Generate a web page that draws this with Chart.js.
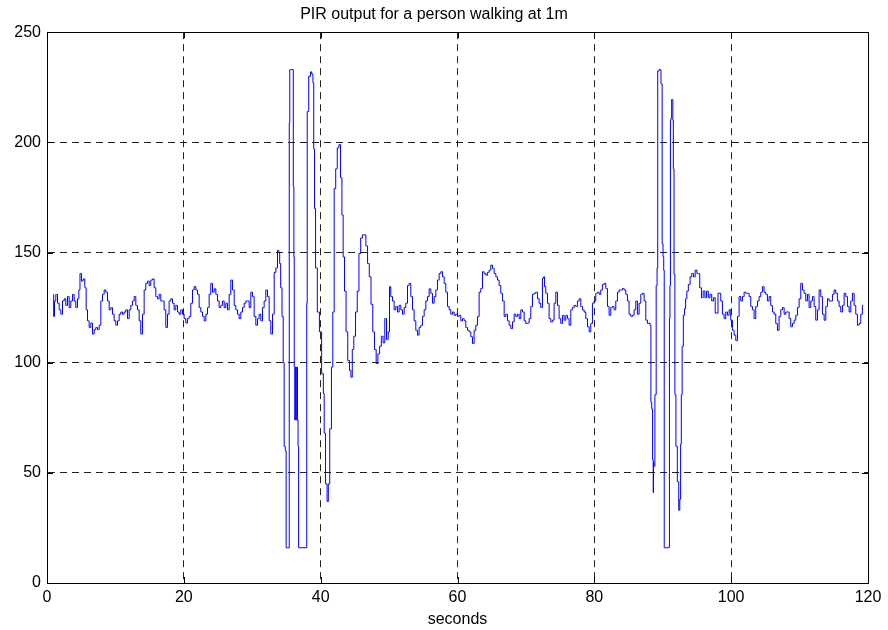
<!DOCTYPE html>
<html>
<head>
<meta charset="utf-8">
<title>PIR output for a person walking at 1m</title>
<script src="https://cdn.jsdelivr.net/npm/chart.js@4.4.1/dist/chart.umd.min.js"></script>
<style>
  html, body { margin: 0; padding: 0; background: #fff; }
  #wrap { width: 888px; height: 630px; position: relative; }
</style>
</head>
<body>
<div id="wrap"><canvas id="pir-chart"></canvas></div>
<script>
// PIR sensor trace (seconds / raw output)
var chartTitle = 'PIR output for a person walking at 1m';
var xAxisLabel = 'seconds';
var xTicks = [0, 20, 40, 60, 80, 100, 120];
var yTicks = [0, 50, 100, 150, 200, 250];

var times = [
  0.93, 1.02, 1.17, 1.41, 1.66, 1.90, 2.14, 2.39, 2.63, 2.87,
  3.12, 3.36, 3.60, 3.85, 4.09, 4.33, 4.58, 4.72, 4.92, 5.16,
  5.41, 5.65, 5.80, 6.04, 6.28, 6.53, 6.77, 7.02, 7.26, 7.50,
  7.75, 7.99, 8.23, 8.48, 8.72, 8.96, 9.21, 9.45, 9.69, 9.94,
  10.18, 10.42, 10.67, 10.91, 11.15, 11.40, 11.64, 11.89, 12.13, 12.37,
  12.62, 12.86, 13.10, 13.35, 13.59, 13.83, 14.08, 14.32, 14.56, 14.81,
  15.05, 15.29, 15.54, 15.78, 16.03, 16.27, 16.51, 16.76, 17.00, 17.24,
  17.49, 17.73, 17.97, 18.22, 18.46, 18.70, 18.95, 19.19, 19.43, 19.68,
  19.92, 20.16, 20.41, 20.65, 20.90,
  21.14, 21.39, 21.63, 21.88, 22.12, 22.36, 22.61, 22.85, 23.09, 23.34,
  23.58, 23.82, 24.07, 24.31, 24.56, 24.80, 25.04, 25.29, 25.53, 25.77,
  26.02, 26.26, 26.50, 26.75, 26.99, 27.24, 27.48, 27.72, 27.97, 28.21,
  28.45, 28.70, 28.94, 29.18, 29.43, 29.67, 29.91, 30.16, 30.40, 30.65,
  30.89, 31.13, 31.38, 31.62, 31.86, 32.11, 32.35, 32.59, 32.84, 33.08,
  33.33, 33.57, 33.81, 33.96, 34.06, 34.25,
  // first pass
  34.45, 34.60, 34.72, 34.93, 34.98, 35.40, 35.42, 35.55, 35.95, 36.05,
  36.12, 36.16, 36.26, 36.36, 36.46, 36.56, 36.67, 36.72, 36.83, 37.93,
  38.00, 38.07, 38.44, 38.60, 38.80, 38.94, 39.03, 39.18, 39.33, 39.69,
  39.94, 40.34, 40.44, 40.59, 40.84, 41.04, 41.20, 41.45, 41.70, 41.85,
  42.10, 42.30, 42.55, 42.80, 43.00, 43.21, 43.36, 43.61, 43.81, 44.11,
  44.32, 44.52, 44.72, 44.97, 45.22, 45.47, 45.72, 45.98, 46.23, 46.48,
  46.73, 46.98, 47.23, 47.49, 47.74, 47.99, 48.24, 48.49, 48.74, 49.00,
  49.25, 49.50, 49.75, 50.00,
  50.13, 50.37, 50.62, 50.86, 51.11, 51.35, 51.59, 51.84, 52.08, 52.32,
  52.57, 52.81, 53.05, 53.30, 53.54, 53.78, 54.03, 54.27, 54.51, 54.76,
  55.00, 55.25, 55.49, 55.73, 55.98, 56.22, 56.46, 56.71, 56.95, 57.19,
  57.44, 57.68, 57.93, 58.17, 58.41, 58.66, 58.90, 59.14, 59.39, 59.63,
  59.87, 60.12, 60.36, 60.61, 60.85, 61.09, 61.34, 61.58, 61.82, 62.07,
  62.31, 62.55, 62.80, 63.04, 63.28, 63.53, 63.77, 64.01, 64.26, 64.50,
  64.75, 64.99, 65.23, 65.48, 65.72, 65.96, 66.21, 66.45, 66.70, 66.94,
  67.18, 67.43, 67.67, 67.91, 68.16, 68.40, 68.64, 68.89, 69.13, 69.38,
  69.62, 69.86, 70.10, 70.35, 70.59,
  70.83, 71.08, 71.32, 71.56, 71.81, 72.05, 72.29, 72.54, 72.66, 72.78,
  73.03, 73.27, 73.51, 73.76, 74.00, 74.24, 74.49, 74.73, 74.97, 75.22,
  75.46, 75.71, 75.95, 76.19, 76.44, 76.68, 76.92, 77.17, 77.41, 77.65,
  77.90, 78.14, 78.38, 78.63, 78.87, 79.12, 79.36, 79.60, 79.85, 80.09,
  80.33, 80.58, 80.82, 81.06, 81.31, 81.55, 81.79, 82.04, 82.28, 82.53,
  82.77, 83.01, 83.26, 83.50, 83.74, 83.99, 84.23, 84.47, 84.72, 84.96,
  85.20, 85.45, 85.69, 85.94, 86.18, 86.42, 86.67, 86.91, 87.15, 87.40,
  87.64, 87.88,
  // second pass
  88.08, 88.20, 88.33, 88.45, 88.58, 88.63, 88.66, 88.73, 88.98, 89.10,
  89.24, 89.29, 89.64, 89.84, 89.99, 90.09, 90.19, 90.24, 90.95, 91.00,
  91.10, 91.15, 91.25, 91.35, 91.45, 91.50, 91.60, 91.70, 91.85, 92.00,
  92.26, 92.41, 92.56, 92.66, 92.76, 92.91, 93.11, 93.26, 93.43, 93.61,
  93.87, 94.12, 94.37, 94.62, 94.87, 95.12, 95.28, 95.53, 95.78, 96.03,
  96.28, 96.53, 96.78, 97.03, 97.29, 97.54, 97.79,
  98.36, 98.60, 98.85, 99.09, 99.33, 99.58, 99.82, 100.06, 100.31, 100.55,
  100.80, 101.04, 101.28, 101.53, 101.77, 102.01, 102.26, 102.50, 102.74, 102.99,
  103.23, 103.47, 103.72, 103.96, 104.20, 104.45, 104.69, 104.93, 105.18, 105.42,
  105.67, 105.91, 106.15, 106.40, 106.64, 106.88, 107.13, 107.37, 107.62, 107.86,
  108.10, 108.35, 108.59, 108.83, 109.08, 109.32, 109.57, 109.81, 110.05, 110.30,
  110.54, 110.78, 111.03, 111.27, 111.51, 111.76, 112.00, 112.24, 112.49, 112.73,
  112.98, 113.22, 113.46, 113.71, 113.95, 114.19, 114.44, 114.68, 114.92, 115.17,
  115.41, 115.65, 115.90, 116.14, 116.39, 116.63, 116.87, 117.12, 117.36, 117.60,
  117.85, 118.09, 118.33, 118.58, 118.82, 119.06, 119.30
];

var pirOutput = [
  131, 121, 128, 131, 127, 124, 122, 128, 129, 126,
  130, 125, 128, 131, 128, 125, 129, 133, 140.5, 137,
  138, 134, 124, 119, 116, 118, 113, 115, 116, 115,
  117, 128, 131, 133, 132, 128, 124, 125, 122, 119,
  117, 119, 122, 123, 122, 123, 124, 120, 124, 126,
  128, 130, 126, 124, 119, 113, 122, 133, 136, 137,
  135, 137.5, 138, 134, 130, 129, 131, 128, 128, 124,
  116, 122, 128, 129, 127, 124, 126, 123, 122, 124,
  122, 120, 118, 120, 121,
  127, 133, 134.5, 133, 131, 125, 123, 121, 119, 122,
  125, 131, 136, 132, 133.5, 131, 128, 125, 126, 128,
  125, 127, 124, 131, 137.5, 133, 126, 124, 122, 120,
  123, 125, 127, 128, 128, 125, 132, 130, 121, 117,
  120, 122, 119, 125, 128, 133, 130, 119, 113, 122,
  141, 143, 151, 150, 145, 134,
  // first pass
  121, 100, 62, 60, 16, 16, 209, 233, 233, 180,
  148, 98, 74, 98, 74, 98, 74, 62, 16, 16,
  127, 214, 230, 232, 231, 227, 197, 170, 143, 123,
  114, 95, 86, 68, 45, 37, 45, 70, 98, 123,
  179, 188, 197.5, 199, 184, 167, 148, 132.5, 114, 101,
  96.5, 93.4, 106, 112, 123, 132.5, 149.6, 156.6, 158, 158,
  153, 145, 139, 126.5, 114, 106, 99.6, 104, 107.5, 112,
  109, 120, 110.5, 114,
  134.5, 130, 128, 124, 125.5, 123, 126, 124, 122, 125,
  127, 135, 136, 130, 124, 119, 114.7, 112.5, 116, 117,
  121, 124, 128, 130, 133.5, 131.5, 127, 130, 133, 137.5,
  140.5, 141.3, 139, 136, 132, 125.5, 124, 122, 123, 121.5,
  122, 121, 121.5, 119, 120, 119, 116, 114.7, 114, 111.8,
  108.7, 114.7, 117, 121, 132, 133.7, 141.3, 140.5, 139.7, 141,
  142, 144.3, 142.8, 140.5, 139, 137.5, 135, 131.5, 128, 121,
  122, 119, 117, 115.5, 118.5, 122, 121, 122, 120, 124,
  123, 119, 117.8, 118, 120,
  125.5, 131, 131.5, 132, 129, 127, 125, 138.3, 139, 134.5,
  131.5, 127, 120, 118.5, 119.3, 127, 132, 126, 120, 117.8,
  121.5, 119.3, 121.5, 120, 117, 124, 125, 126, 125.5, 128,
  129, 125.5, 124, 123, 120, 116.3, 114, 117.8, 127, 128,
  131.5, 132, 131, 133, 135.4, 136, 133.7, 125.5, 121.5, 125,
  125.5, 124, 128, 132, 133, 133, 133.7, 133, 131, 128,
  122, 121, 121.5, 124, 128, 122, 127, 131, 131.5, 128,
  119.3, 117.8,
  // second pass
  118, 117, 82, 79, 56, 41, 55, 53, 85.5, 135,
  143, 232.4, 233, 226.5, 154, 148, 142, 16, 16, 120,
  135, 210, 211, 219.5, 219.5, 210, 188, 140, 85.5, 62,
  46, 33, 38, 63, 85.5, 107.5, 121.5, 124.5, 129, 132.5,
  135.5, 139, 140.5, 139, 142, 140.5, 140.5, 134, 129.5, 132.5,
  129.5, 132.5, 129.5, 131, 128, 129.5, 122.5,
  131.5, 128, 122, 120, 123, 121.5, 124, 119.3, 114.7, 112.5,
  110, 121, 130, 128, 130, 132, 131.5, 131.5, 130, 125.5,
  124, 120, 125.5, 128, 130, 132, 134.5, 132, 131, 128,
  130, 126, 123, 122, 117.8, 114.7, 121, 124, 125, 122,
  123, 123, 120, 116.3, 117.8, 119.3, 121.5, 125, 129, 136,
  133, 131.5, 128, 131, 125, 128, 130, 125.5, 119.3, 124,
  133, 130, 122, 119.3, 125.5, 129, 128, 128, 131, 133,
  131.5, 128, 125.5, 123, 126, 131.5, 130, 125.5, 123, 128,
  131.5, 126, 122, 117, 117.8, 122, 126
];

var FONT = 'Liberation Sans, Arial, Helvetica, sans-serif';

// matlab style box + inward tick marks
var axesBox = {
  id: 'axesBox',
  afterDraw: function(chart) {
    var ctx = chart.ctx;
    var a = chart.chartArea;
    var xs = chart.scales.x, ys = chart.scales.y;
    var len = 6;
    ctx.save();
    ctx.strokeStyle = '#000';
    ctx.lineWidth = 1;
    ctx.beginPath();
    xs.ticks.forEach(function(t) {
      var px = Math.round(xs.getPixelForValue(t.value)) + 0.5;
      ctx.moveTo(px, a.bottom); ctx.lineTo(px, a.bottom - len);
      ctx.moveTo(px, a.top); ctx.lineTo(px, a.top + len);
    });
    ys.ticks.forEach(function(t) {
      var py = Math.round(ys.getPixelForValue(t.value)) + 0.5;
      ctx.moveTo(a.left, py); ctx.lineTo(a.left + len, py);
      ctx.moveTo(a.right, py); ctx.lineTo(a.right - len, py);
    });
    ctx.stroke();
    ctx.strokeRect(Math.round(a.left) + 0.5, Math.round(a.top) + 0.5,
      Math.round(a.right - a.left), Math.round(a.bottom - a.top));
    ctx.restore();
  }
};

var points = times.map(function(t, i) { return { x: t, y: pirOutput[i] }; });

new Chart(document.getElementById('pir-chart'), {
  type: 'line',
  data: {
    datasets: [{
      data: points,
      borderColor: '#0000ff',
      borderWidth: 1,
      pointRadius: 0,
      tension: 0,
      stepped: 'middle',
      fill: false
    }]
  },
  options: {
    responsive: true,
    maintainAspectRatio: false,
    animation: false,
    events: [],
    layout: { padding: { left: 0, right: 20, top: 0, bottom: 0 } },
    plugins: {
      legend: { display: false },
      tooltip: { enabled: false },
      title: {
        display: true,
        text: chartTitle,
        color: '#000',
        font: { family: FONT, size: 16, weight: 'normal' },
        padding: { top: 5, bottom: 8 }
      }
    },
    scales: {
      x: {
        type: 'linear',
        min: xTicks[0],
        max: xTicks[xTicks.length - 1],
        afterFit: function(scale) { scale.height = 47; },
        afterBuildTicks: function(scale) {
          scale.ticks = xTicks.map(function(v) { return { value: v }; });
        },
        ticks: { color: '#000', padding: 5, maxRotation: 0, font: { family: FONT, size: 16 } },
        grid: { color: '#222', lineWidth: 1, drawTicks: false },
        border: { display: true, color: '#000', dash: [7, 5] },
        title: {
          display: true,
          text: xAxisLabel,
          color: '#000',
          font: { family: FONT, size: 16 },
          padding: { top: 0, bottom: 1 }
        }
      },
      y: {
        type: 'linear',
        min: yTicks[0],
        max: yTicks[yTicks.length - 1],
        afterFit: function(scale) { scale.width = 47; },
        afterBuildTicks: function(scale) {
          scale.ticks = yTicks.map(function(v) { return { value: v }; });
        },
        ticks: { color: '#000', padding: 6, font: { family: FONT, size: 16 } },
        grid: { color: '#222', lineWidth: 1, drawTicks: false },
        border: { display: true, color: '#000', dash: [7, 5] }
      }
    }
  },
  plugins: [axesBox]
});
</script>
</body>
</html>
